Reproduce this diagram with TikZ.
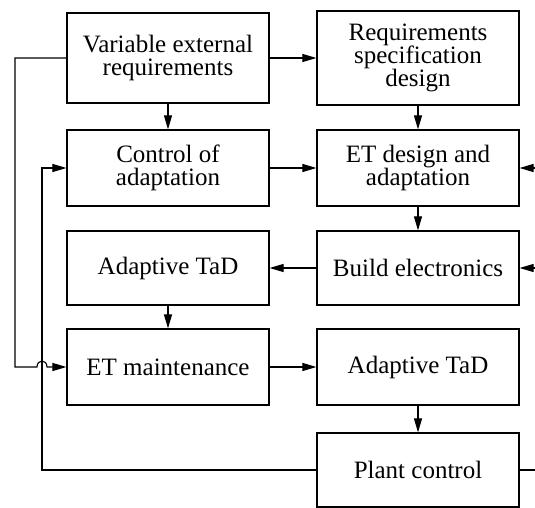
\documentclass[tikz,border=0pt]{standalone}
\usepackage{fontspec}
\setmainfont{Liberation Serif}
\usetikzlibrary{arrows.meta, positioning}

\begin{document}
\begin{tikzpicture}
  [
    x=1pt, y=-1pt,
    Block/.style={rectangle, draw=black, line width=1.2pt, minimum width=202pt, align=center, inner sep=2pt, font=\fontsize{25}{23}\selectfont},
    Line/.style={draw, line width=1.1pt, -{Triangle[length=14pt, width=8pt]}},
    Plain/.style={draw, line width=1.1pt}
  ]
  \useasboundingbox (0,0) rectangle (535,508);

  % Nodes
  \node[Block, minimum height=90pt] (ver) at(168, 58) {Variable external\\requirements};

  \node[Block, minimum height=94pt] (req) at(418, 58) {Requirements\\specification\\design};

  \node[Block, minimum height=76pt] (ctrl) at(168, 168) {Control of\\adaptation};

  \node[Block, minimum height=76pt] (etd) at(418, 168) {ET design and\\adaptation};

  \node[Block, minimum height=74pt] (atl) at(168, 268) {Adaptive TaD};

  \node[Block, minimum height=74pt] (be) at(418, 268) {Build electronics};

  \node[Block, minimum height=76pt] (etm) at(168, 367) {ET maintenance};

  \node[Block, minimum height=76pt] (atr) at(418, 367) {Adaptive TaD};

  \node[Block, minimum height=74pt] (pc) at(418, 470) {Plant control};

  % Helper coordinates
  \coordinate (outer) at(15, 0);
  \coordinate (inner) at(42, 0);
  \coordinate (edge) at(535, 0);
  \coordinate (hop) at(etm.west -| inner);

  % Lines
  \path [Line] (ver) -- (ctrl);
  \path [Line] (ver) -- (req);
  \path [Line] (req) -- (etd);
  \path [Line] (ctrl) -- (etd);
  \path [Line] (etd) -- (be);
  \path [Line] (be) -- (atl);
  \path [Line] (atl) -- (etm);
  \path [Line] (etm) -- (atr);
  \path [Line] (atr) -- (pc);

  % Feedback on the left
  \path [Line] (ver.west) -- (ver.west -| outer) -- (etm.west -| outer)
    -- ([xshift=-5pt]hop) .. controls +(0,-8) and +(0,-8) .. ([xshift=5pt]hop)
    -- (etm.west);
  \path [Line] (pc.west) -- (pc.west -| inner) -- (ctrl.west -| inner) -- (ctrl.west);

  % Feedback on the right
  \path [Plain] (pc.east) -- (pc.east -| edge);
  \path [Line] (etd.east -| edge) -- (etd.east);
  \path [Line] (be.east -| edge) -- (be.east);

\end{tikzpicture}
\end{document}
